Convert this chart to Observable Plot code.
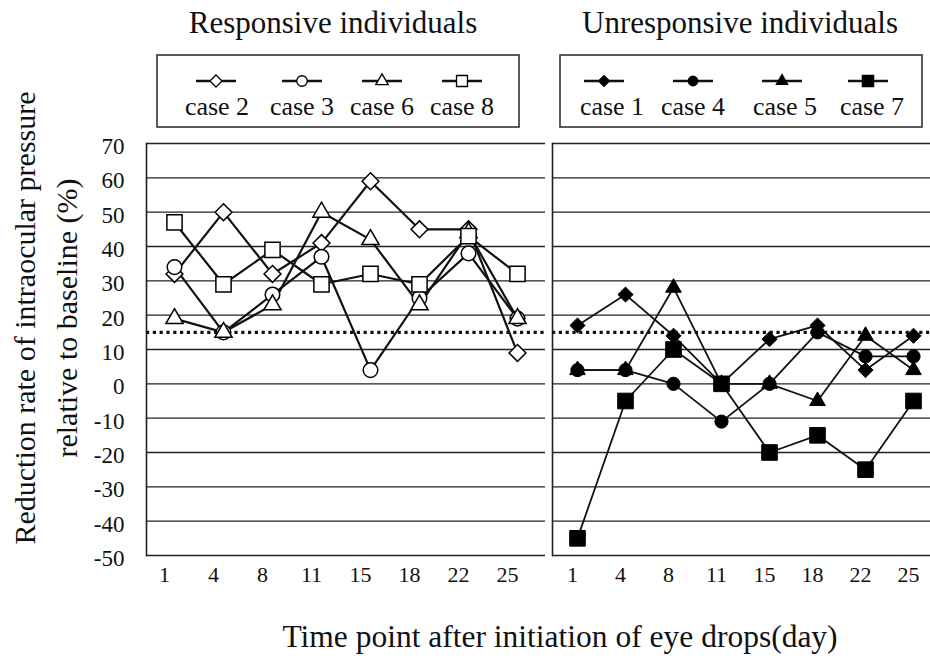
<!DOCTYPE html>
<html>
<head>
<meta charset="utf-8">
<script src="https://cdn.jsdelivr.net/npm/d3@7"></script>
<script src="https://cdn.jsdelivr.net/npm/@observablehq/plot@0.6"></script>
<style>
  html, body { margin: 0; padding: 0; background: #fff; overflow: hidden; }
  #wrap { position: relative; width: 930px; height: 658px; overflow: hidden; background: #fff; }
  #wrap > svg, #wrap > figure { position: absolute; top: 0; margin: 0; }
</style>
</head>
<body>
<div id="wrap"></div>
<script>
// ---------- data ----------
const days = ["1", "4", "8", "11", "15", "18", "22", "25"];
const yTicks = [70, 60, 50, 40, 30, 20, 10, 0, -10, -20, -30, -40, -50];
const threshold = 15;

const panelTitles = ["Responsive individuals", "Unresponsive individuals"];
const xTitle = "Time point after initiation of eye drops(day)";
const yTitle = ["Reduction rate of intraocular pressure", "relative to baseline (%)"];

// responsive individuals
const case2 = [32, 50, 32, 41, 59, 45, 45, 9];
const case3 = [34, 15, 26, 37, 4, 25, 38, 19];
const case6 = [19, 15, 23, 50, 42, 23, 44, 19];
const case8 = [47, 29, 39, 29, 32, 29, 43, 32];
// unresponsive individuals
const case1 = [17, 26, 14, 0, 13, 17, 4, 14];
const case4 = [4, 4, 0, -11, 0, 15, 8, 8];
const case5 = [4, 4, 28, 0, 0, -5, 14, 4];
const case7 = [-45, -5, 10, 0, -20, -15, -25, -5];

const responsiveNames = ["case 2", "case 3", "case 6", "case 8"];
const unresponsiveNames = ["case 1", "case 4", "case 5", "case 7"];
const responsiveValues = [case2, case3, case6, case8];
const unresponsiveValues = [case1, case4, case5, case7];

// ---------- styles ----------
const FONT = "'Liberation Serif', 'Times New Roman', serif";
const symbolsByIndex = ["diamond2", "circle", "triangle", "square"];
const openR = {diamond2: 7.6, circle: 7.3, triangle: 6.4, square: 8.6};
const filledR = {diamond2: 6.8, circle: 6.6, triangle: 5.8, square: 8.8};
const d3Sym = {diamond2: d3.symbolDiamond2, circle: d3.symbolCircle, triangle: d3.symbolTriangle, square: d3.symbolSquare};

function toRows(names, values) {
  const rows = [];
  names.forEach((name, k) => values[k].forEach((v, i) => rows.push({name, k, day: days[i], value: v})));
  return rows;
}

function panel({names, values, filled, width, marginLeft, showY, tickDx, lineWidth}) {
  const rows = toRows(names, values);
  const marks = [
    Plot.ruleY(yTicks, {stroke: "#222", strokeWidth: 1.4}),
    Plot.frame({anchor: "left", stroke: "#222", strokeWidth: 1.6}),
    Plot.ruleY([threshold], {stroke: "#111", strokeWidth: 3.2, strokeDasharray: "3.2,3.6"}),
    Plot.line(rows, {x: "day", y: "value", z: "name", stroke: "#111", strokeWidth: lineWidth}),
  ];
  names.forEach((name, k) => {
    const sym = symbolsByIndex[k];
    marks.push(Plot.dot(rows.filter(d => d.k === k), {
      x: "day", y: "value", symbol: () => sym,
      r: filled ? filledR[sym] : openR[sym],
      fill: filled ? "#000" : "#fff",
      stroke: "#000", strokeWidth: filled ? 1 : 1.5
    }));
  });
  marks.push(Plot.axisX({tickSize: 0, tickPadding: 11, dx: tickDx, fontSize: 22, label: null}));
  if (showY) marks.push(Plot.axisY(yTicks, {tickSize: 0, tickPadding: 22, dy: 3, fontSize: 23, label: null, tickFormat: d => String(d)}));
  return Plot.plot({
    width, height: 658,
    marginTop: 143, marginBottom: 103, marginLeft, marginRight: 0,
    x: {type: "point", domain: days, padding: 0.5, axis: null},
    y: {domain: [-50, 70], ticks: yTicks, axis: null},
    symbol: {type: "identity"},
    style: {fontFamily: FONT, fontSize: "22px", color: "#111", background: "transparent", overflow: "visible"},
    marks
  });
}

const wrap = document.getElementById("wrap");
const left = panel({names: responsiveNames, values: responsiveValues, filled: false, width: 545, marginLeft: 146, showY: true, tickDx: -10, lineWidth: 2.2});
left.style.left = "0px";
wrap.appendChild(left);
const right = panel({names: unresponsiveNames, values: unresponsiveValues, filled: true, width: 392, marginLeft: 7, showY: false, tickDx: -5, lineWidth: 1.8});
right.style.left = "545px";
wrap.appendChild(right);

// ---------- titles, legends, axis titles (overlay) ----------
const svg = d3.select(wrap).append("svg")
  .attr("width", 930).attr("height", 658)
  .style("left", "0px").style("pointer-events", "none")
  .style("font-family", FONT).style("fill", "#111");

const titleX = [333, 740];
panelTitles.forEach((t, i) => svg.append("text").attr("x", titleX[i]).attr("y", 33)
  .attr("text-anchor", "middle").attr("font-size", 31).text(t));

const boxes = [
  {x: 157, names: responsiveNames, filled: false, sx: [216, 302, 382, 462], tx: [217, 302, 382, 462]},
  {x: 560, names: unresponsiveNames, filled: true, sx: [604, 693, 782, 868], tx: [612, 693, 785, 872]}
];
boxes.forEach(b => {
  svg.append("rect").attr("x", b.x).attr("y", 55).attr("width", 362).attr("height", 72)
    .attr("fill", "none").attr("stroke", "#333").attr("stroke-width", 1.6);
  b.names.forEach((n, k) => {
    const sym = symbolsByIndex[k];
    svg.append("line").attr("x1", b.sx[k] - 20).attr("x2", b.sx[k] + 20).attr("y1", 81).attr("y2", 81)
      .attr("stroke", "#111").attr("stroke-width", 2.6);
    const base = b.filled ? filledR[sym] : openR[sym];
    const rr = base * 0.72;
    svg.append("path").attr("transform", `translate(${b.sx[k]},81)`)
      .attr("d", d3.symbol(d3Sym[sym], Math.PI * rr * rr)())
      .attr("fill", b.filled ? "#000" : "#fff").attr("stroke", "#000").attr("stroke-width", 1.3);
    svg.append("text").attr("x", b.tx[k]).attr("y", 115).attr("text-anchor", "middle")
      .attr("font-size", 26).text(n);
  });
});

svg.append("text").attr("x", 560).attr("y", 647).attr("text-anchor", "middle")
  .attr("font-size", 31.5).text(xTitle);

const yTitleX = [24, 66];
yTitle.forEach((t, i) => svg.append("text")
  .attr("transform", `translate(${yTitleX[i]},318) rotate(-90)`)
  .attr("text-anchor", "middle").attr("dy", "0.35em").attr("font-size", 30).text(t));
</script>
</body>
</html>
